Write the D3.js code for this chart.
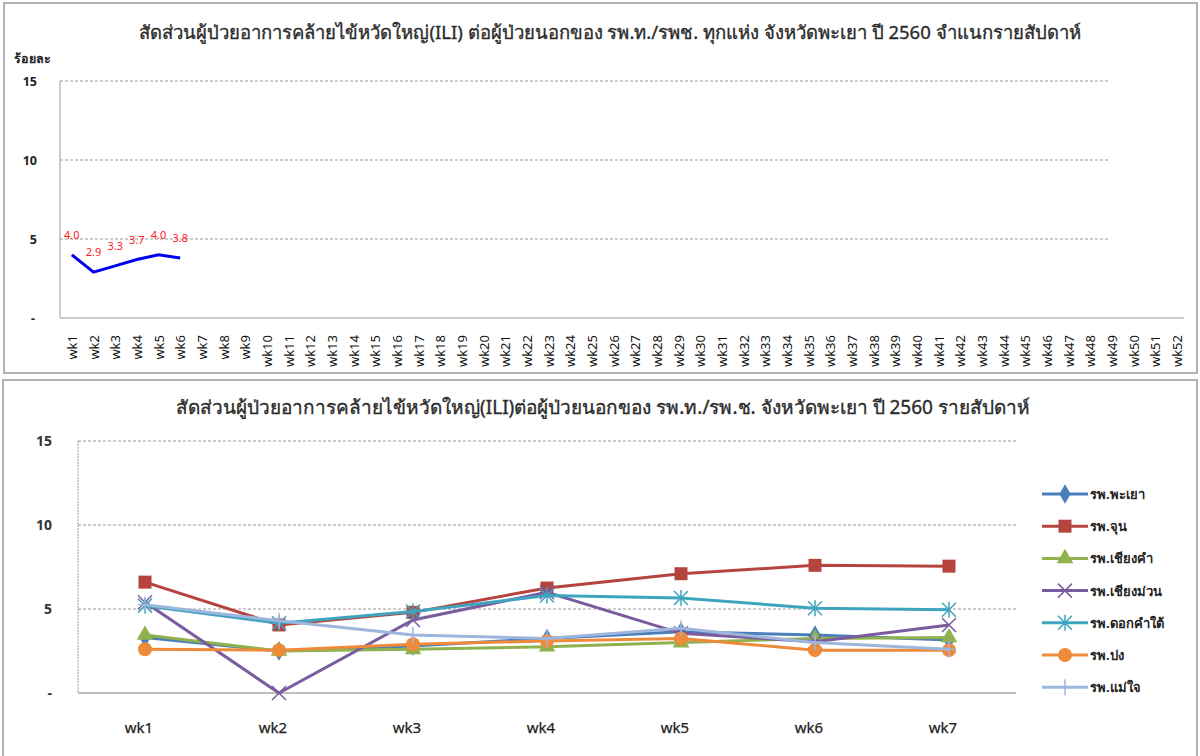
<!DOCTYPE html>
<html>
<head>
<meta charset="utf-8">
<script src="https://cdn.jsdelivr.net/npm/d3@7"></script>
<style>
  body { margin: 0; background: #fff; }
  svg text { font-family: Tahoma, "Noto Sans", "DejaVu Sans", sans-serif; }
</style>
</head>
<body>
<svg id="chart" width="1200" height="756"></svg>
<script>

// top chart: all hospitals, weeks 1-52
var weeksAll = []
for (var w = 1; w <= 52; w++) weeksAll.push("wk" + w)
var totalValues = [4.0, 2.9, 3.3, 3.7, 4.0, 3.8]
var topTicks = [0, 5, 10, 15]
var topTitle = "สัดส่วนผู้ป่วยอาการคล้ายไข้หวัดใหญ่(ILI) ต่อผู้ป่วยนอกของ รพ.ท./รพช. ทุกแห่ง จังหวัดพะเยา  ปี 2560 จำแนกรายสัปดาห์"

// bottom chart: per hospital, weeks 1-7
var weeks = ["wk1", "wk2", "wk3", "wk4", "wk5", "wk6", "wk7"]
var hospitals = ["รพ.พะเยา", "รพ.จุน", "รพ.เชียงคำ", "รพ.เชียงม่วน", "รพ.ดอกคำใต้", "รพ.ปง", "รพ.แม่ใจ"]
var phayao     = [3.3, 2.5, 2.8, 3.25, 3.65, 3.45, 3.15]
var chun       = [6.6, 4.05, 4.8, 6.25, 7.1, 7.6, 7.55]
var chiangkham = [3.45, 2.5, 2.6, 2.75, 3.0, 3.25, 3.3]
var chiangmuan = [5.4, 0, 4.35, 6.0, 3.55, 3.05, 4.05]
var dokkhamtai = [5.2, 4.15, 4.85, 5.8, 5.65, 5.05, 4.95]
var pong       = [2.6, 2.55, 2.9, 3.1, 3.25, 2.55, 2.55]
var maechai    = [5.25, 4.3, 3.45, 3.25, 3.85, 3.0, 2.6]
var bottomTicks = [0, 5, 10, 15]
var bottomTitle = "สัดส่วนผู้ป่วยอาการคล้ายไข้หวัดใหญ่(ILI)ต่อผู้ป่วยนอกของ รพ.ท./รพ.ช. จังหวัดพะเยา ปี 2560 รายสัปดาห์"

var seriesValues = [phayao, chun, chiangkham, chiangmuan, dokkhamtai, pong, maechai]
var colors = ["#4a7ebb", "#b5443f", "#8fb24f", "#7a5c9e", "#3fa5bf", "#ee8b3a", "#9db6dd"]
var symbols = ["diamond", "square", "triangle", "x", "asterisk", "circle", "plus"]

var svg = d3.select("#chart")

// panel frames
svg.append("rect").attr("x", 4).attr("y", 3).attr("width", 1193).attr("height", 370)
    .attr("fill", "none").attr("stroke", "#9a9a9a").attr("stroke-width", 1.5)
svg.append("rect").attr("x", 3).attr("y", 380).attr("width", 1194).attr("height", 380)
    .attr("fill", "none").attr("stroke", "#9a9a9a").attr("stroke-width", 1.5)

function tickLabel(v) {
    return v == 0 ? "-" : v
}

function drawTop(){

    var xScale = d3.scaleBand()
        .domain(weeksAll)
        .range([61, 1188])

    var yScale = d3.scaleLinear()
        .domain([0, 15])
        .range([318, 81])

    svg.append("text")
        .attr("x", 610).attr("y", 39)
        .attr("text-anchor", "middle")
        .attr("font-size", 18.5)
        .attr("fill", "#2b2b2b")
        .attr("stroke", "#2b2b2b").attr("stroke-width", 0.35)
        .text(topTitle)

    svg.append("text")
        .attr("x", 14).attr("y", 63)
        .attr("font-size", 12.5)
        .attr("font-weight", "bold")
        .attr("fill", "#222")
        .text("ร้อยละ")

    // gridlines
    svg.append("g").selectAll("line")
        .data(topTicks.filter(d => d > 0))
        .join("line")
        .attr("x1", 60).attr("x2", 1108)
        .attr("y1", d => yScale(d)).attr("y2", d => yScale(d))
        .attr("stroke", "#999").attr("stroke-dasharray", "3,2")

    svg.append("g").selectAll("text")
        .data(topTicks)
        .join("text")
        .attr("x", d => d == 0 ? 35 : 37)
        .attr("y", d => yScale(d) + 5)
        .attr("text-anchor", "end")
        .attr("font-size", 12.5)
        .attr("font-weight", "bold")
        .attr("fill", "#222")
        .text(tickLabel)

    svg.append("line").attr("x1", 60).attr("x2", 60).attr("y1", 81).attr("y2", 318)
        .attr("stroke", "#999")
    svg.append("line").attr("x1", 60).attr("x2", 1184).attr("y1", 318).attr("y2", 318)
        .attr("stroke", "#999")

    // rotated week labels
    svg.append("g").selectAll("text")
        .data(weeksAll)
        .join("text")
        .attr("transform", d => "translate(" + (xScale(d) + xScale.bandwidth() / 2 + 5) + ",335) rotate(-90)")
        .attr("text-anchor", "end")
        .attr("font-size", 13)
        .attr("fill", "#111")
        .text(d => d)

    var line = d3.line()
        .x((d, i) => xScale(weeksAll[i]) + xScale.bandwidth() / 2)
        .y(d => yScale(d))

    svg.append("path")
        .datum(totalValues)
        .attr("d", line)
        .attr("fill", "none")
        .attr("stroke", "#0000ee")
        .attr("stroke-width", 3)

    svg.append("g").selectAll("text")
        .data(totalValues)
        .join("text")
        .attr("x", (d, i) => xScale(weeksAll[i]) + xScale.bandwidth() / 2)
        .attr("y", d => yScale(d) - 16)
        .attr("text-anchor", "middle")
        .attr("font-size", 11)
        .attr("fill", "#ff2020")
        .text(d => d.toFixed(1))
}

function marker(g, type, color) {
    if (type == "diamond") {
        g.append("path").attr("d", d3.symbol(d3.symbolDiamond, 110)())
            .attr("fill", color)
    } else if (type == "square") {
        g.append("rect").attr("x", -6.5).attr("y", -6.5).attr("width", 13).attr("height", 13)
            .attr("fill", color)
    } else if (type == "triangle") {
        g.append("path").attr("d", d3.symbol(d3.symbolTriangle, 120)())
            .attr("fill", color)
    } else if (type == "circle") {
        g.append("circle").attr("r", 7).attr("fill", color)
    } else if (type == "x") {
        g.append("path").attr("d", "M-7,-7L7,7M-7,7L7,-7")
            .attr("stroke", color).attr("stroke-width", 1.5)
    } else if (type == "asterisk") {
        g.append("path").attr("d", "M-7,-7L7,7M-7,7L7,-7M0,-8L0,8")
            .attr("stroke", color).attr("stroke-width", 1.5)
    } else if (type == "plus") {
        g.append("path").attr("d", "M0,-8L0,8M-7,0L7,0")
            .attr("stroke", color).attr("stroke-width", 1.5)
    }
}

function drawBottom(){

    var xScale = d3.scaleBand()
        .domain(weeks)
        .range([78, 1016])

    var yScale = d3.scaleLinear()
        .domain([0, 15])
        .range([693, 441])

    svg.append("text")
        .attr("x", 603).attr("y", 414)
        .attr("text-anchor", "middle")
        .attr("font-size", 19)
        .attr("fill", "#2b2b2b")
        .attr("stroke", "#2b2b2b").attr("stroke-width", 0.35)
        .text(bottomTitle)

    svg.append("g").selectAll("line")
        .data(bottomTicks.filter(d => d > 0))
        .join("line")
        .attr("x1", 78).attr("x2", 1016)
        .attr("y1", d => yScale(d)).attr("y2", d => yScale(d))
        .attr("stroke", "#999").attr("stroke-dasharray", "3,2")

    svg.append("line").attr("x1", 78).attr("x2", 78).attr("y1", 441).attr("y2", 693)
        .attr("stroke", "#999").attr("stroke-dasharray", "2,1")
    svg.append("line").attr("x1", 78).attr("x2", 1016).attr("y1", 693).attr("y2", 693)
        .attr("stroke", "#aaa").attr("stroke-width", 1.5)

    svg.append("g").selectAll("text")
        .data(bottomTicks)
        .join("text")
        .attr("x", 52)
        .attr("y", d => yScale(d) + 5)
        .attr("text-anchor", "end")
        .attr("font-size", 14)
        .attr("font-weight", "bold")
        .attr("fill", "#333")
        .text(tickLabel)

    svg.append("g").selectAll("text")
        .data(weeks)
        .join("text")
        .attr("x", d => xScale(d) + xScale.bandwidth() / 2 - 6)
        .attr("y", 733)
        .attr("text-anchor", "middle")
        .attr("font-size", 15)
        .attr("fill", "#222")
        .attr("stroke", "#222").attr("stroke-width", 0.25)
        .text(d => d)

    var line = d3.line()
        .x((d, i) => xScale(weeks[i]) + xScale.bandwidth() / 2)
        .y(d => yScale(d))

    seriesValues.forEach(function(vals, k) {
        var g = svg.append("g")
        g.append("path")
            .datum(vals)
            .attr("d", line)
            .attr("fill", "none")
            .attr("stroke", colors[k])
            .attr("stroke-width", 3)

        vals.forEach(function(v, i) {
            var m = g.append("g")
                .attr("transform", "translate(" + (xScale(weeks[i]) + xScale.bandwidth() / 2) + "," + yScale(v) + ")")
            marker(m, symbols[k], colors[k])
        })
    })

    // legend
    var legend = svg.append("g")
    hospitals.forEach(function(name, k) {
        var y = 494 + k * 32.2
        legend.append("line")
            .attr("x1", 1042).attr("x2", 1088).attr("y1", y).attr("y2", y)
            .attr("stroke", colors[k]).attr("stroke-width", 3)
        var m = legend.append("g").attr("transform", "translate(1065," + y + ")")
        marker(m, symbols[k], colors[k])
        legend.append("text")
            .attr("x", 1090).attr("y", y + 5)
            .attr("font-size", 13)
            .attr("font-weight", "bold")
            .attr("fill", "#222")
            .text(name)
    })
}

drawTop()
drawBottom()

</script>
</body>
</html>
